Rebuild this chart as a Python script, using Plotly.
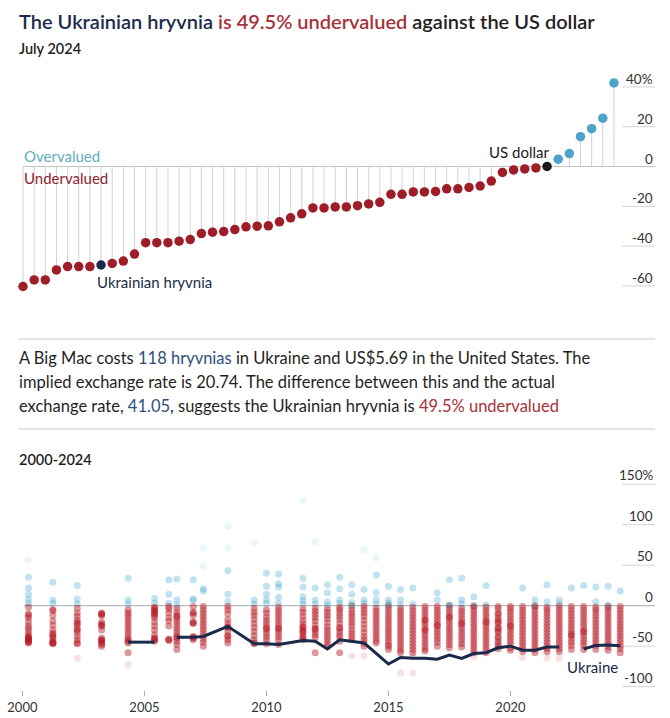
import plotly.graph_objects as go

W, H = 670, 718

# ---------------- Top chart: July 2024, sorted valuations (%) ----------------
top_values = [-60.3, -57, -57, -52, -50.3, -50.3, -50.3, -49.5, -48.7, -47.5,
              -44, -38.3, -38.3, -38.3, -37.5, -36.7, -33.7, -33, -32.7, -31.7,
              -30.3, -30, -29.8, -27.8, -25.8, -23.8, -20.8, -20.8, -20.3, -20.3,
              -19.7, -18.8, -18, -14, -14, -12.8, -12.8, -12.5, -11.2, -11.2,
              -10.5, -9.8, -7.3, -3, -1.7, -1.2, -0.7, 0, 3.7, 6.5,
              15, 19, 24.3, 42]
ukraine_index = 7
us_index = 47
top_ticks = [40, 20, 0, -20, -40, -60]
top_tick_text = ["40%", "20", "0", "-20", "-40", "-60"]

# ---------------- Bottom chart: 2000-2024 ----------------
release_dates = ["2000-04", "2001-04", "2002-04", "2003-04", "2004-05", "2005-06",
                 "2006-01", "2006-05", "2007-01", "2007-06", "2008-06", "2009-07",
                 "2010-01", "2010-07", "2011-07", "2012-01", "2012-07", "2013-01",
                 "2013-07", "2014-01", "2014-07", "2015-01", "2015-07", "2016-01",
                 "2016-07", "2017-01", "2017-07", "2018-01", "2018-07", "2019-01",
                 "2019-07", "2020-01", "2020-07", "2021-01", "2021-07", "2022-01",
                 "2022-07", "2023-01", "2023-07", "2024-01", "2024-07"]

ukraine_series = [None, None, None, None, -45, -45, None, -39, -39, -38, -25.5, -47,
                  -47, -48, -43, -44, -53.5, -42, -44, -46, -59, -72, -64, -65,
                  -65, -66, -61, -65, -59, -58, -52, -50, -55, -55, -51, -51,
                  None, -53.5, -49, -48.5, -49.5]

other_currencies = [
    [56, 35, 22, 14, 8, 3, -2, -10, -15, -20, -25, -28, -32, -36, -38, -40, -41, -42, -43, -44, -45, -46, -12, -40],
    [29, 7, 3, -5, -6, -12, -19, -24, -34, -36, -38, -40, -44, -46, -46, -47, -30, -45],
    [25, 8, 2, -3, -9, -13, -18, -21, -22, -25, -29, -30, -33, -38, -42, -46, -47, -65],
    [-9, -10, -11, -12, -20, -23, -24, -25, -40, -42, -43, -44, -46, -48, -50, -30],
    [34, 7, 2, -5, -9, -12, -16, -20, -24, -28, -32, -36, -40, -42, -44, -46, -58, -73],
    [9, 3, -2, -3, -5, -7, -9, -10, -12, -15, -20, -25, -30, -36, -40, -41, -42, -44],
    [32, 14, 3, -1, -4, -9, -15, -19, -25, -41, -42, -43],
    [33, 7, 1, -3, -8, -12, -13, -16, -20, -24, -28, -32, -36, -39, -40, -44, -48, -54],
    [32, 8, 7, -1, -8, -9, -12, -20, -21, -22, -38, -39, -40, -42],
    [71, 48, 21, 18, -1, -5, -9, -13, -17, -21, -25, -29, -33, -37, -41, -45, -50],
    [98, 71, 43, 14, 5, -1, -5, -10, -17, -22, -26, -27, -32, -37, -38, -42, -46],
    [77, 7, 2, -3, -8, -12, -17, -22, -27, -32, -37, -42, -46, -47],
    [40, 24, 14, 7, 3, -5, -9, -14, -18, -22, -26, -28, -30, -34, -38, -42, -47],
    [39, 27, 23, 10, 3, -2, -6, -10, -14, -18, -22, -26, -28, -30, -34, -38, -42, -48],
    [130, 34, 23, 11, 6, 2, -4, -8, -13, -18, -22, -26, -27, -30, -32, -34, -38, -40, -42],
    [79, 22, 7, 2, -3, -7, -11, -15, -19, -24, -28, -29, -32, -36, -39, -58],
    [26, 16, 5, 1, -4, -8, -12, -16, -21, -26, -30, -34, -38, -42, -46, -50],
    [35, 21, 7, 3, -2, -5, -9, -13, -17, -22, -27, -28, -32, -36, -39, -44, -58],
    [26, 14, 4, 0, -5, -9, -13, -17, -21, -25, -30, -34, -38, -42, -62],
    [69, 20, 7, 3, -1, -5, -9, -13, -18, -23, -28, -33, -38, -42, -46, -50, -62],
    [59, 38, 16, 7, 2, -3, -7, -11, -15, -19, -23, -27, -31, -35, -39, -43, -46],
    [24, 7, 3, 0, -4, -8, -12, -16, -20, -24, -28, -32, -36, -40, -44, -48, -50, -54],
    [20, 7, 1, -3, -7, -11, -15, -19, -23, -27, -31, -35, -39, -43, -47, -51, -55, -58, -83],
    [22, 2, -2, -6, -10, -14, -18, -22, -26, -30, -34, -38, -42, -46, -50, -54, -58, -62, -83],
    [-1, -5, -9, -13, -17, -21, -25, -29, -33, -37, -41, -45, -49, -53, -56, -18, -30],
    [16, 7, -1, -5, -9, -13, -17, -21, -25, -29, -33, -37, -41, -45, -50, -24],
    [32, 1, 0, -4, -8, -12, -16, -20, -24, -28, -32, -36, -40, -44, -48, -52, -14],
    [34, 7, 2, -3, -7, -11, -15, -19, -23, -27, -31, -35, -39, -43, -47, -51, -22],
    [11, 0, -2, -6, -10, -14, -18, -22, -26, -30, -34, -38, -42, -46, -50, -54, -58, -63],
    [25, 1, -2, -6, -10, -14, -18, -22, -26, -30, -34, -38, -42, -46, -50, -54, -58, -20],
    [-1, -4, -9, -11, -15, -20, -22, -27, -28, -31, -33, -38, -40, -44, -47, -50, -53, -18],
    [-1, -4, -8, -12, -16, -20, -24, -28, -32, -36, -40, -44, -48, -52, -55, -25],
    [22, -1, -5, -9, -13, -17, -21, -25, -29, -33, -37, -41, -45, -49, -53, -57, -64],
    [7, 0, -2, -6, -10, -14, -18, -22, -26, -30, -34, -38, -42, -46, -50, -54, -58],
    [26, 5, -2, -5, -9, -13, -17, -21, -25, -29, -33, -37, -41, -45, -49, -53, -57, -65],
    [7, 2, -1, -5, -9, -13, -17, -21, -25, -29, -33, -37, -41, -45, -49, -53, -57, -65],
    [22, -1, -5, -9, -13, -17, -21, -25, -29, -33, -37, -41, -45, -49, -54, -36],
    [25, -1, -5, -9, -13, -17, -21, -25, -29, -33, -37, -41, -45, -49, -54, -32],
    [23, 5, -2, -5, -9, -13, -17, -21, -25, -29, -33, -37, -41, -45, -49, -54],
    [24, 0, -3, -7, -11, -15, -19, -23, -27, -31, -35, -39, -43, -47, -51, -55],
    [18, -1, -5, -9, -13, -17, -21, -25, -29, -33, -37, -41, -45, -49, -53, -58],
]
bottom_ticks = [150, 100, 50, 0, -50, -100]
bottom_tick_text = ["150%", "100", "50", "0", "-50", "-100"]
year_ticks = ["2000-01-01", "2005-01-01", "2010-01-01", "2015-01-01", "2020-01-01"]
year_tick_text = ["2000", "2005", "2010", "2015", "2020"]

# ---------------- Styling ----------------
FONT = "Lato"
RED = "#9e1d28"
BLUE = "#4ea3c8"
NAVY = "#1b2a4a"
BLACK = "#1a1a1a"
TEAL = "#63adb8"
TXT = "#1f1f1f"

fig = go.Figure()

# Stems
sx, sy = [], []
for i, v in enumerate(top_values):
    sx += [i, i, None]
    sy += [0, v, None]
fig.add_trace(go.Scatter(x=sx, y=sy, mode="lines", line=dict(color="#d2d2d2", width=1),
                         hoverinfo="skip", xaxis="x", yaxis="y", showlegend=False))

top_colors = []
for i, v in enumerate(top_values):
    if i == ukraine_index:
        top_colors.append(NAVY)
    elif i == us_index:
        top_colors.append(BLACK)
    elif v > 0:
        top_colors.append(BLUE)
    else:
        top_colors.append(RED)
fig.add_trace(go.Scatter(x=list(range(len(top_values))), y=top_values, mode="markers",
                         marker=dict(color=top_colors, size=9.5, line=dict(width=0)),
                         xaxis="x", yaxis="y", showlegend=False))

# Bottom cloud
cx, cy, cc = [], [], []
for d, vals in zip(release_dates, other_currencies):
    for v in vals:
        cx.append(d)
        cy.append(v)
        if v > 45:
            cc.append("rgba(70,180,215,0.12)")
        elif v > 0:
            cc.append("rgba(50,160,205,0.3)")
        elif v == 0:
            cc.append("rgba(80,85,100,0.5)")
        elif v < -60:
            cc.append("rgba(195,40,48,0.14)")
        else:
            cc.append("rgba(185,25,35,0.45)")
fig.add_trace(go.Scatter(x=cx, y=cy, mode="markers",
                         marker=dict(color=cc, size=7, line=dict(width=0)),
                         xaxis="x2", yaxis="y2", showlegend=False, hoverinfo="skip"))

fig.add_trace(go.Scatter(x=release_dates, y=ukraine_series, mode="lines",
                         line=dict(color=NAVY, width=3), connectgaps=False,
                         xaxis="x2", yaxis="y2", showlegend=False))

# ---------------- Layout geometry ----------------
def py(p):
    return 1 - p / H

def pxx(p):
    return p / W

top_dom = [py(300), py(70)]
bot_dom = [py(690), py(470)]

shapes = []
annotations = []

# Top ticks (labels above short lines at right)
for t, lab in zip(top_ticks, top_tick_text):
    if t == 0:
        shapes.append(dict(type="line", xref="paper", yref="y", x0=pxx(23), x1=pxx(655),
                           y0=0, y1=0, line=dict(color="#c4c4c4", width=1), layer="below"))
    else:
        shapes.append(dict(type="line", xref="paper", yref="y", x0=pxx(622), x1=pxx(655),
                           y0=t, y1=t, line=dict(color="#d4d4d4", width=1), layer="below"))
    annotations.append(dict(xref="paper", yref="y", x=pxx(655), y=t, yshift=8,
                            text=lab, showarrow=False, xanchor="right", yanchor="middle",
                            font=dict(family=FONT, size=13.5, color="#333")))

# Bottom ticks
for t, lab in zip(bottom_ticks, bottom_tick_text):
    if t == 0:
        shapes.append(dict(type="line", xref="paper", yref="y2", x0=pxx(24), x1=pxx(655),
                           y0=0, y1=0, line=dict(color="#a9a9a9", width=1), layer="below"))
    else:
        shapes.append(dict(type="line", xref="paper", yref="y2", x0=pxx(622), x1=pxx(655),
                           y0=t, y1=t, line=dict(color="#d4d4d4", width=1), layer="below"))
    annotations.append(dict(xref="paper", yref="y2", x=pxx(655), y=t, yshift=9,
                            text=lab, showarrow=False, xanchor="right", yanchor="middle",
                            font=dict(family=FONT, size=13.5, color="#333")))

# Separators
for yy in (339, 429):
    shapes.append(dict(type="line", xref="paper", yref="paper", x0=pxx(18), x1=pxx(655),
                       y0=py(yy), y1=py(yy), line=dict(color="#cccccc", width=1)))

# Titles
annotations.append(dict(xref="paper", yref="paper", x=pxx(17), y=py(21), xanchor="left",
                        yanchor="middle", showarrow=False,
                        text=f"<span style='color:{NAVY}'>The Ukrainian hryvnia</span> "
                             f"<span style='color:#a8323c'>is 49.5% undervalued</span> "
                             f"<span style='color:{TXT}'>against the US dollar</span>",
                        font=dict(family=FONT, size=20, weight=600)))
annotations.append(dict(xref="paper", yref="paper", x=pxx(17), y=py(49), xanchor="left",
                        yanchor="middle", showarrow=False, text="July 2024",
                        font=dict(family=FONT, size=14.5, color=TXT, weight=600)))
annotations.append(dict(xref="paper", yref="paper", x=pxx(17), y=py(459), xanchor="left",
                        yanchor="middle", showarrow=False, text="2000-2024",
                        font=dict(family=FONT, size=14.5, color=TXT, weight=600)))

# Over/under labels
annotations.append(dict(xref="paper", yref="y", x=pxx(22), y=0, yshift=11, xanchor="left",
                        yanchor="middle", showarrow=False, text="Overvalued",
                        font=dict(family=FONT, size=15, color=TEAL)))
annotations.append(dict(xref="paper", yref="y", x=pxx(22), y=0, yshift=-11, xanchor="left",
                        yanchor="middle", showarrow=False, text="Undervalued",
                        font=dict(family=FONT, size=15, color="#8e2430")))

# Highlight labels
annotations.append(dict(xref="x", yref="y", x=ukraine_index, y=top_values[ukraine_index],
                        xshift=-6, yshift=-17, xanchor="left", yanchor="middle",
                        showarrow=False, text="Ukrainian hryvnia",
                        font=dict(family=FONT, size=15, color=NAVY)))
annotations.append(dict(xref="x", yref="y", x=us_index, y=top_values[us_index],
                        xshift=4, yshift=15, xanchor="right", yanchor="middle",
                        showarrow=False, text="US dollar",
                        font=dict(family=FONT, size=15, color=BLACK)))
annotations.append(dict(xref="x2", yref="y2", x=release_dates[-1], y=ukraine_series[-1],
                        xshift=0, yshift=-21, xanchor="right", yanchor="middle",
                        showarrow=False, text="Ukraine",
                        font=dict(family=FONT, size=15, color=NAVY)))

# Paragraph
para = [
    f"A Big Mac costs <span style='color:#2e4f7c'>118 hryvnias</span> in Ukraine and US$5.69 in the United States. The",
    "implied exchange rate is 20.74. The difference between this and the actual",
    f"exchange rate, <span style='color:#2e4f7c'>41.05</span>, suggests the Ukrainian hryvnia is "
    f"<span style='color:#a8323c'>49.5% undervalued</span>",
]
for k, line in enumerate(para):
    annotations.append(dict(xref="paper", yref="paper", x=pxx(17), y=py(358 + 24 * k),
                            xanchor="left", yanchor="middle", showarrow=False, text=line,
                            font=dict(family=FONT, size=16.5, color=TXT)))

fig.update_layout(
    width=W, height=H, margin=dict(l=0, r=0, t=0, b=0),
    paper_bgcolor="white", plot_bgcolor="white",
    font=dict(family=FONT),
    xaxis=dict(domain=[0, 1], range=[-23 / 11.15, (W - 23) / 11.15], visible=False,
               anchor="y"),
    yaxis=dict(domain=top_dom, range=[-(300 - 166.5) / 1.99, (166.5 - 70) / 1.99],
               visible=False, anchor="x"),
    xaxis2=dict(domain=[0, 1], type="date", range=["1999-01-31", "2026-07-16"],
                anchor="y2", showgrid=False, zeroline=False, showline=False,
                tickmode="array", tickvals=year_ticks, ticktext=year_tick_text,
                ticks="outside", ticklen=5, tickcolor="#aaaaaa",
                tickfont=dict(family=FONT, size=13, color="#333")),
    yaxis2=dict(domain=bot_dom, range=[-(690 - 605.7) / 0.81, (605.7 - 470) / 0.81],
                visible=False, anchor="x2"),
    shapes=shapes, annotations=annotations,
)

fig.write_html("out.html")
